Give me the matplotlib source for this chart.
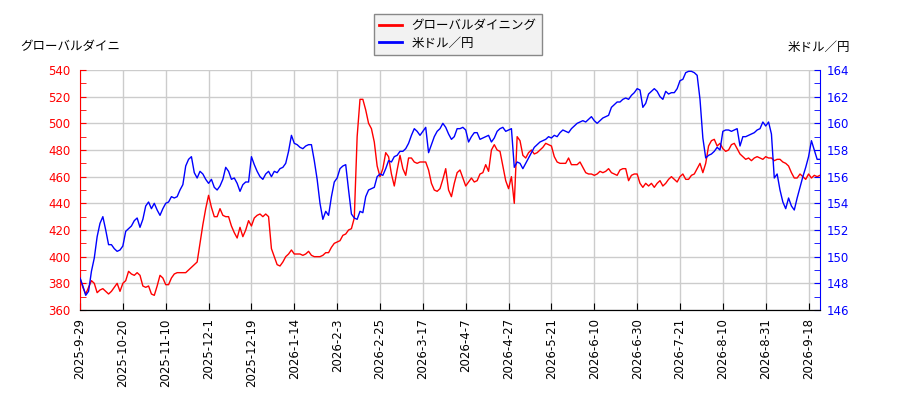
import numpy as np
import matplotlib
matplotlib.use("Agg")
import matplotlib.pyplot as plt
from matplotlib.ticker import MultipleLocator

plt.rcParams['font.family'] = ['DejaVu Sans', 'Noto Sans CJK JP']

stock_name = "グローバルダイニング"
fx_name = "米ドル／円"

tick_labels = [
    "2025-9-29", "2025-10-20", "2025-11-10", "2025-12-1", "2025-12-19",
    "2026-1-14", "2026-2-3", "2026-2-25", "2026-3-17", "2026-4-7",
    "2026-4-27", "2026-5-21", "2026-6-10", "2026-6-30", "2026-7-21",
    "2026-8-10", "2026-8-31", "2026-9-18",
]

# stock price (left axis), one value per trading day
stock = [
    384, 377, 372, 377, 382, 380, 373, 375, 376, 374,
    372, 374, 377, 380, 374, 380, 382, 389, 387, 386,
    388, 386, 378, 377, 378, 372, 371, 378, 386, 384,
    379, 379, 384, 387, 388, 388, 388, 388, 390, 392,
    394, 396, 410, 424, 436, 446, 437, 430, 430, 436,
    431, 430, 430, 423, 418, 414, 422, 415, 420, 427,
    423, 429, 431, 432, 430, 432, 430, 406, 400, 394,
    393, 396, 400, 402, 405, 402, 402, 402, 401, 402,
    404, 401, 400, 400, 400, 401, 403, 403, 407, 410,
    411, 412, 416, 417, 420, 421, 429, 490, 518, 518,
    510, 500, 496, 486, 468, 460, 466, 478, 475, 462,
    453, 465, 476, 466, 461, 474, 474, 471, 470, 471,
    471, 471, 465, 455, 450, 449, 451, 458, 466, 450,
    445, 455, 463, 465, 459, 453, 456, 459, 456, 457,
    462, 463, 469, 464, 480, 484, 480, 479, 468, 457,
    451, 460, 440, 490, 487, 476, 474, 478, 480, 477,
    478, 480, 482, 485, 484, 483, 475, 471, 470, 470,
    470, 474, 469, 469, 469, 471, 467, 463, 462, 462,
    461, 462, 464, 463, 464, 466, 463, 462, 461, 465,
    466, 466, 457, 461, 462, 462, 455, 452, 455, 453,
    455, 452, 455, 457, 453, 455, 458, 460, 458, 456,
    460, 462, 458, 458, 461, 462, 466, 470, 463, 470,
    483, 487, 488, 483, 485, 481, 479, 480, 484, 485,
    481, 477, 475, 473, 474, 472, 474, 475, 474, 473,
    475, 474, 474, 472, 473, 473, 471, 470, 468, 463,
    459, 459, 462, 460, 458, 462, 459, 461, 460, 461,
]

# USD/JPY (right axis)
usdjpy = [
    148.4, 147.8, 147.1, 147.4, 148.9, 149.9, 151.5, 152.5, 153.0, 152.0,
    150.9, 150.9, 150.6, 150.4, 150.5, 150.8, 151.9, 152.1, 152.3, 152.7,
    152.9, 152.2, 152.8, 153.8, 154.1, 153.6, 154.0, 153.5, 153.1, 153.6,
    154.0, 154.1, 154.5, 154.4, 154.5, 155.0, 155.4, 156.8, 157.3, 157.5,
    156.3, 155.9, 156.4, 156.2, 155.8, 155.5, 155.8, 155.2, 155.0, 155.3,
    155.8, 156.7, 156.4, 155.8, 155.9, 155.5, 154.9, 155.4, 155.6, 155.6,
    157.5, 156.9, 156.4, 156.0, 155.8, 156.2, 156.4, 156.0, 156.4, 156.3,
    156.6, 156.7, 157.0, 157.9, 159.1, 158.5, 158.4, 158.2, 158.1, 158.3,
    158.4, 158.4, 157.2, 155.8, 154.0, 152.8, 153.4, 153.1, 154.5, 155.6,
    155.9, 156.6, 156.8, 156.9, 155.0, 153.2, 152.9, 152.8, 153.4, 153.3,
    154.5, 155.0, 155.1, 155.2, 156.0, 156.2, 156.1, 156.6, 157.2, 157.1,
    157.5, 157.6, 157.9, 157.9, 158.1, 158.5, 159.1, 159.6, 159.4, 159.1,
    159.4, 159.7, 157.8, 158.4, 159.0, 159.4, 159.6, 160.0, 159.7, 159.2,
    158.8, 159.0, 159.6, 159.6, 159.7, 159.5, 158.6, 159.0, 159.3, 159.3,
    158.8, 158.9, 159.0, 159.1, 158.6, 158.9, 159.4, 159.6, 159.7, 159.4,
    159.5, 159.6, 156.7, 157.1, 157.0, 156.6, 157.0, 157.4, 157.8, 158.2,
    158.4, 158.6, 158.7, 158.8, 159.0, 158.9, 159.1, 159.0, 159.3, 159.5,
    159.4, 159.3, 159.6, 159.8, 160.0, 160.1, 160.2, 160.1, 160.3, 160.5,
    160.2, 160.0, 160.2, 160.4, 160.5, 160.6, 161.2, 161.4, 161.6, 161.6,
    161.8, 161.9, 161.8, 162.1, 162.3, 162.6, 162.5, 161.2, 161.5, 162.2,
    162.4, 162.6, 162.4, 162.0, 161.8, 162.4, 162.2, 162.3, 162.3, 162.6,
    163.2, 163.3, 163.8, 163.9, 163.9, 163.8, 163.6, 161.8, 158.9, 157.4,
    157.6, 157.7, 157.9, 158.2, 158.0, 159.4, 159.5, 159.5, 159.4, 159.5,
    159.6, 158.3, 159.0, 159.0, 159.1, 159.2, 159.3, 159.5, 159.6, 160.1,
    159.8, 160.1, 159.2, 155.9, 156.2, 155.0, 154.1, 153.6, 154.4, 153.8,
    153.5, 154.4, 155.2, 156.0, 156.7, 157.5, 158.7, 158.0, 157.3, 157.3,
]

x = np.arange(len(stock))

fig = plt.figure(figsize=(9, 4), dpi=100)
ax = fig.add_axes([80 / 900, 1 - 310 / 400, 740 / 900, 240 / 400])
ax2 = ax.twinx()

l1, = ax.plot(x, stock, color="red", lw=1.0)
l2, = ax2.plot(x, usdjpy, color="blue", lw=1.0)

ax.set_xlim(0, len(stock) - 1)
ax.set_ylim(360, 540)
ax2.set_ylim(146, 164)

ax.set_xticks(np.arange(0, len(stock), 15)[:len(tick_labels)])
ax.set_xticklabels(tick_labels, rotation=90, fontsize=8.5)
ax.yaxis.set_major_locator(MultipleLocator(20))
ax.yaxis.set_minor_locator(MultipleLocator(10))
ax2.yaxis.set_major_locator(MultipleLocator(2))
ax2.yaxis.set_minor_locator(MultipleLocator(1))

ax.grid(True, color="#cccccc", lw=1)
ax.set_axisbelow(True)

ax.tick_params(axis="x", direction="in", length=5, color="black", pad=6)
ax.tick_params(axis="y", which="both", direction="in", length=4,
               color="red", labelcolor="red", labelsize=8.5, pad=7)
ax2.tick_params(axis="y", which="both", direction="in", length=4,
                color="blue", labelcolor="blue", labelsize=8.5, pad=5)

for a in (ax, ax2):
    a.spines["top"].set_visible(False)
ax.spines["left"].set_color("red")
ax.spines["right"].set_visible(False)
ax2.spines["left"].set_visible(False)
ax2.spines["right"].set_color("blue")
ax.spines["bottom"].set_color("black")

fig.text(20 / 900, 1 - 47 / 400, "グローバルダイニ", fontsize=9, va="center", ha="left")
fig.text(850 / 900, 1 - 47 / 400, fx_name, fontsize=9, va="center", ha="right")

leg = fig.legend([l1, l2], [stock_name, fx_name], loc="upper center",
                 bbox_to_anchor=(458 / 900, 1 - 8 / 400), fontsize=9,
                 fancybox=False, framealpha=1, borderpad=0.4,
                 handlelength=1.8, labelspacing=0.35)
leg.get_frame().set_facecolor("#f2f2f2")
leg.get_frame().set_edgecolor("#888888")
for h in leg.legend_handles:
    h.set_linewidth(2)

fig.savefig("out.png", dpi=100)
